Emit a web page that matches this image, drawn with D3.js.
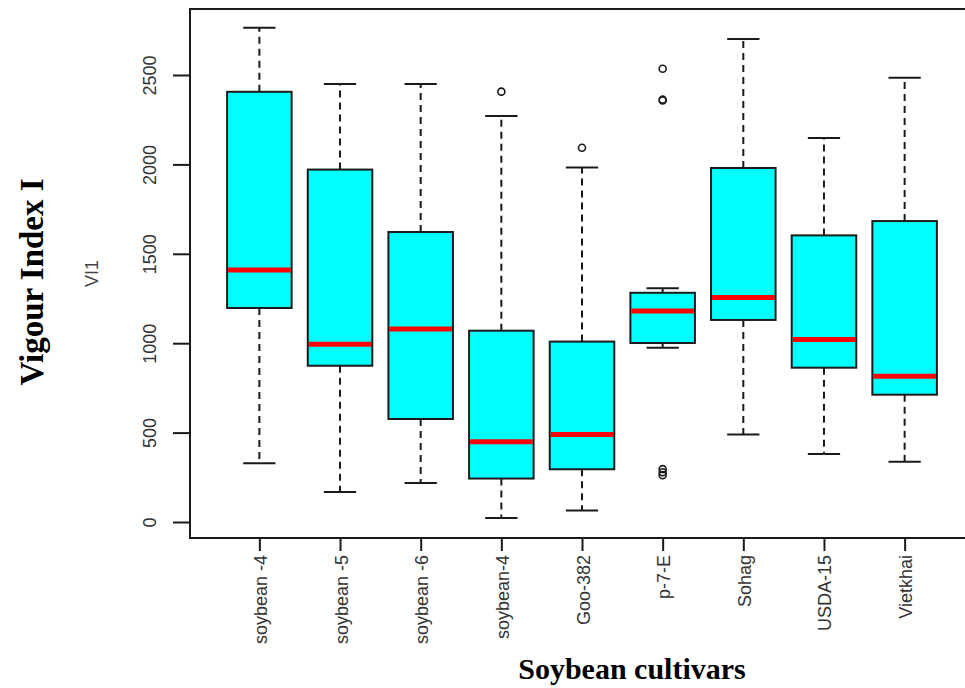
<!DOCTYPE html>
<html>
<head>
<meta charset="utf-8">
<script src="https://cdn.jsdelivr.net/npm/d3@7"></script>
<style>
  body { margin: 0; background: #fff; }
  svg { display: block; }
</style>
</head>
<body>
<div id="chart"></div>
<script>
// Vigour index boxplot data
const cultivars = ['soybean -4', 'soybean -5', 'soybean -6', 'soybean-4', 'Goo-382', 'p-7-E', 'Sohag', 'USDA-15', 'Vietkhai'];
const whiskerLow  = [328, 168, 218, 22, 65, 975, 490, 380, 337];
const q1          = [1197, 874, 576, 243, 295, 1001, 1130, 863, 712];
const medians     = [1409, 994, 1079, 449, 490, 1180, 1256, 1020, 815];
const q3          = [2406, 1971, 1622, 1070, 1009, 1282, 1980, 1603, 1683];
const whiskerHigh = [2764, 2449, 2450, 2271, 1982, 1307, 2701, 2148, 2485];
const outliers    = [[], [], [], [2407], [2093], [2535, 2362, 2357, 296, 278, 262], [], [], []];
const yTicks = [0, 500, 1000, 1500, 2000, 2500];

const width = 965, height = 688;
const plot = { left: 190, top: 9, right: 974, bottom: 538 };
const ink = '#1a1a1a';

const svg = d3.select('#chart').append('svg')
    .attr('width', width)
    .attr('height', height);

const x = d3.scaleLinear().domain([0.14, 9.86]).range([plot.left, plot.right]);
const y = d3.scaleLinear().domain([0, 2500]).range([522, 75]);

const boxW = x(1.8) - x(1);      // box is 0.8 of a category
const capW = boxW / 2;

// boxes
const g = svg.append('g');
cultivars.forEach((name, i) => {
    const cx = x(i + 1);

    // whiskers (dashed)
    g.append('line')
        .attr('x1', cx).attr('x2', cx)
        .attr('y1', y(q3[i])).attr('y2', y(whiskerHigh[i]))
        .attr('stroke', ink).attr('stroke-width', 2)
        .attr('stroke-dasharray', '7,5');
    g.append('line')
        .attr('x1', cx).attr('x2', cx)
        .attr('y1', y(q1[i])).attr('y2', y(whiskerLow[i]))
        .attr('stroke', ink).attr('stroke-width', 2)
        .attr('stroke-dasharray', '7,5');

    // staples
    [whiskerHigh[i], whiskerLow[i]].forEach(v => {
        g.append('line')
            .attr('x1', cx - capW / 2).attr('x2', cx + capW / 2)
            .attr('y1', y(v)).attr('y2', y(v))
            .attr('stroke', ink).attr('stroke-width', 2);
    });

    // box
    g.append('rect')
        .attr('x', cx - boxW / 2)
        .attr('y', y(q3[i]))
        .attr('width', boxW)
        .attr('height', y(q1[i]) - y(q3[i]))
        .attr('fill', '#00ffff')
        .attr('stroke', ink)
        .attr('stroke-width', 2);

    // median
    g.append('line')
        .attr('x1', cx - boxW / 2 + 1).attr('x2', cx + boxW / 2 - 1)
        .attr('y1', y(medians[i])).attr('y2', y(medians[i]))
        .attr('stroke', '#ff0000')
        .attr('stroke-width', 5);

    // outliers
    outliers[i].forEach(v => {
        g.append('circle')
            .attr('cx', cx)
            .attr('cy', y(v))
            .attr('r', 3.5)
            .attr('fill', 'none')
            .attr('stroke', ink)
            .attr('stroke-width', 1.6);
    });
});

// frame
svg.append('rect')
    .attr('x', plot.left)
    .attr('y', plot.top)
    .attr('width', plot.right - plot.left)
    .attr('height', plot.bottom - plot.top)
    .attr('fill', 'none')
    .attr('stroke', ink)
    .attr('stroke-width', 2);

// y axis
const yAxis = svg.append('g')
    .attr('transform', `translate(${plot.left},0)`)
    .call(d3.axisLeft(y).tickValues(yTicks).tickSize(17).tickFormat(d3.format('d')));
yAxis.select('.domain').attr('stroke', ink).attr('stroke-width', 2)
    .attr('d', `M0,${y(0)}V${y(2500)}`);
yAxis.selectAll('.tick line').attr('stroke', ink).attr('stroke-width', 2);
yAxis.selectAll('.tick text')
    .attr('x', null).attr('dy', null)
    .attr('transform', 'translate(-34,0) rotate(-90)')
    .attr('text-anchor', 'middle')
    .attr('font-family', '"Liberation Sans", Arial, sans-serif')
    .attr('font-size', 18)
    .attr('fill', '#333');

// x axis
const xAxis = svg.append('g')
    .attr('transform', `translate(0,${plot.bottom})`)
    .call(d3.axisBottom(x).tickValues(d3.range(1, cultivars.length + 1))
        .tickSize(13).tickFormat(d => cultivars[d - 1]));
xAxis.select('.domain').remove();
xAxis.selectAll('.tick line').attr('stroke', ink).attr('stroke-width', 2);
xAxis.selectAll('.tick text')
    .attr('y', null).attr('dy', null)
    .attr('transform', 'translate(7,17) rotate(-90)')
    .attr('text-anchor', 'end')
    .attr('font-family', '"Liberation Sans", Arial, sans-serif')
    .attr('font-size', 18)
    .attr('fill', '#333');

// inner y label
svg.append('text')
    .attr('transform', `translate(98,${(plot.top + plot.bottom) / 2}) rotate(-90)`)
    .attr('text-anchor', 'middle')
    .attr('font-family', '"Liberation Sans", Arial, sans-serif')
    .attr('font-size', 18)
    .attr('fill', '#444')
    .text('VI1');

// bold titles
svg.append('text')
    .attr('transform', 'translate(43,282) rotate(-90)')
    .attr('text-anchor', 'middle')
    .attr('font-family', '"Liberation Serif", "Times New Roman", serif')
    .attr('font-weight', 'bold')
    .attr('font-size', 33)
    .attr('fill', '#000')
    .text('Vigour Index I');

svg.append('text')
    .attr('x', 632)
    .attr('y', 679)
    .attr('text-anchor', 'middle')
    .attr('font-family', '"Liberation Serif", "Times New Roman", serif')
    .attr('font-weight', 'bold')
    .attr('font-size', 30)
    .attr('fill', '#000')
    .text('Soybean cultivars');
</script>
</body>
</html>
